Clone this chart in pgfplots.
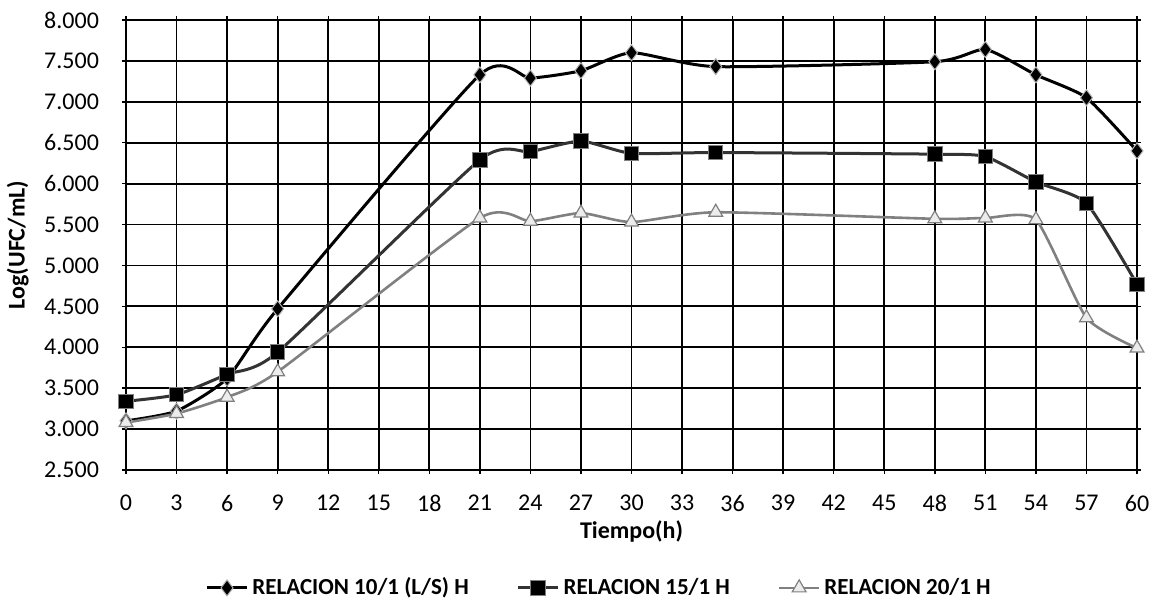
\documentclass[border=0pt]{standalone}
\usepackage{pgfplots}
\pgfplotsset{compat=1.18}
\usepackage{fontspec}
\setmainfont{Carlito}
\begin{document}
\begin{tikzpicture}
\useasboundingbox (-63pt,-67.5pt) rectangle (518pt,235pt);
\begin{axis}[
  at={(0,0)}, anchor=south west,
  scale only axis, width=505.5pt, height=225pt,
  xmin=0, xmax=60, ymin=2.5, ymax=8,
  xtick={0,3,...,60},
  ytick={2.5,3,...,8},
  grid=major,
  major grid style={black, line width=0.9pt},
  axis line style={black, line width=0.9pt},
  tick align=center, major tick length=4pt,
  tick style={black, line width=0.7pt},
  /pgf/number format/assume math mode=true,
  yticklabel style={/tikz/xshift=-8pt, /pgf/number format/fixed, /pgf/number format/fixed zerofill, /pgf/number format/precision=3, /pgf/number format/1000 sep={}},
  ticklabel style={font=\fontsize{12}{14}\selectfont},
  xticklabel style={yshift=-7pt},
  xlabel={Tiempo(h)}, ylabel={Log(UFC/mL)},
  every axis x label/.style={at={(axis description cs:0.5,-0.136)}, anchor=center, font=\bfseries\fontsize{12}{14}\selectfont},
  every axis y label/.style={at={(axis description cs:-0.107,0.5)}, rotate=90, anchor=center, font=\bfseries\fontsize{12}{14}\selectfont},
  legend style={draw=none, at={(axis description cs:0.469,-0.262)}, anchor=center,
    legend columns=3, font=\bfseries\fontsize{11.5}{13}\selectfont,
    /tikz/every even column/.append style={column sep=22pt}},
  legend image code/.code={\draw[#1] (0cm,0cm) -- (0.35cm,0cm) -- (0.7cm,0cm);
    \draw[#1, only marks] plot coordinates {(0.35cm,0cm)};},
]
\addplot[smooth, tension=0.35, black, line width=1.5pt, mark=diamond*, mark size=4pt,
  mark options={fill=black, draw=gray!60, line width=0.5pt, solid}]
  coordinates {(0,3.10) (3,3.22) (6,3.62) (9,4.47) (21,7.33) (24,7.29) (27,7.38) (30,7.60) (35,7.43) (48,7.49) (51,7.64) (54,7.33) (57,7.05) (60,6.40)};
\addlegendentry{RELACION 10/1 (L/S) H}
\addplot[smooth, tension=0.35, black!80, line width=1.5pt, mark=square*, mark size=3.6pt,
  mark options={fill=black, draw=gray, line width=0.5pt, solid}]
  coordinates {(0,3.34) (3,3.42) (6,3.67) (9,3.94) (21,6.29) (24,6.39) (27,6.52) (30,6.37) (35,6.38) (48,6.36) (51,6.33) (54,6.02) (57,5.76) (60,4.77)};
\addlegendentry{RELACION 15/1 H}
\addplot[smooth, tension=0.35, gray, line width=1.3pt, mark=triangle*, mark size=4pt,
  mark options={fill=gray!15, draw=gray, line width=0.6pt, solid}]
  coordinates {(0,3.08) (3,3.19) (6,3.39) (9,3.70) (21,5.58) (24,5.54) (27,5.64) (30,5.53) (35,5.65) (48,5.57) (51,5.58) (54,5.56) (57,4.36) (60,3.99)};
\addlegendentry{RELACION 20/1 H}
\end{axis}
\end{tikzpicture}
\end{document}
